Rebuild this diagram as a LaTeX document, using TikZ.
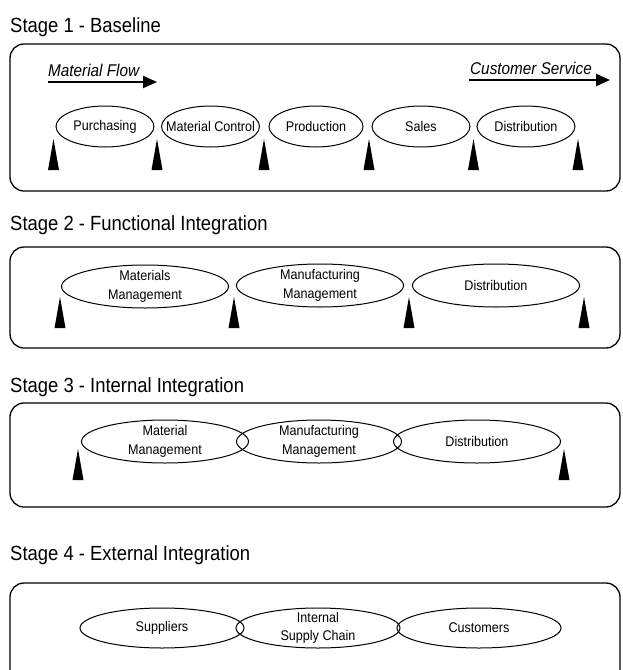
\documentclass[tikz,border=0pt]{standalone}
\usepackage{fontspec}
\setmainfont{Liberation Sans}[FakeStretch=0.9]
\usetikzlibrary{shapes.geometric,arrows.meta}
\begin{document}
\begin{tikzpicture}[x=1pt,y=-1pt,
  title/.style={anchor=base west,inner sep=0pt,font=\fontsize{20.5}{24}\selectfont},
  stagebox/.style={draw,line width=1.3pt,rounded corners=14pt,inner sep=0pt,minimum width=610pt},
  unit/.style={draw,ellipse,line width=1pt,inner sep=0pt},
  e1/.style={unit,minimum width=98pt,minimum height=41pt},
  e2/.style={unit,minimum width=167pt,minimum height=43pt},
  e4/.style={unit,minimum width=164pt,minimum height=40pt},
  unittext/.style={inner sep=0pt,align=center,font=\fontsize{14}{18.5}\selectfont},
  flowlabel/.style={anchor=base west,inner sep=0pt,font=\itshape\fontsize{17}{20}\selectfont},
  flowarrow/.style={line width=2pt,-{Triangle[length=14pt,width=12pt]}},
  spike/.pic={\fill (-5.5,0) -- (0,-31) -- (5.5,0) -- cycle;}
]
\useasboundingbox (0,0) rectangle (623,670);
\clip (0,0) rectangle (623,670);

% ---------- Stage 1 ----------
\node[title] (t1) at (10,32) {Stage 1 - Baseline};
\node[stagebox,minimum height=147pt] (box1) at (315,117.5) {};
\node[flowlabel] (mfl) at (48,76) {Material Flow};
\coordinate (mf0) at (48,82);
\coordinate (mf1) at (157,82);
\draw[flowarrow] (mf0) -- (mf1);
\node[flowlabel] (csl) at (470,74) {Customer Service};
\coordinate (cs0) at (469,80);
\coordinate (cs1) at (610,80);
\draw[flowarrow] (cs0) -- (cs1);

\node[e1] (s1a) at (105,126.5) {};
\node[unittext] (s1at) at (s1a) {Purchasing};
\node[e1] (s1b) at (210.5,126.5) {};
\node[unittext] (s1bt) at (s1b) {Material Control};
\node[e1,minimum width=94pt] (s1c) at (316,126.5) {};
\node[unittext] (s1ct) at (s1c) {Production};
\node[e1] (s1d) at (421,126.5) {};
\node[unittext] (s1dt) at (s1d) {Sales};
\node[e1] (s1e) at (526,126.5) {};
\node[unittext] (s1et) at (s1e) {Distribution};

\foreach \x in {53.5,157,264,369,473.5,578}
  \pic at (\x,170) {spike};

% ---------- Stage 2 ----------
\node[title] (t2) at (10,230) {Stage 2 - Functional Integration};
\node[stagebox,minimum height=101pt] (box2) at (315,297.5) {};
\node[e2] (s2a) at (145,286.5) {};
\node[unittext] (s2at) at (s2a) {Materials\\Management};
\node[e2] (s2b) at (320,285.5) {};
\node[unittext] (s2bt) at (s2b) {Manufacturing\\Management};
\node[e2] (s2c) at (496,285.5) {};
\node[unittext] (s2ct) at (s2c) {Distribution};

\foreach \x in {60,234,409,584}
  \pic at (\x,328) {spike};

% ---------- Stage 3 ----------
\node[title] (t3) at (10,392) {Stage 3 - Internal Integration};
\node[stagebox,minimum height=104pt] (box3) at (315,455) {};
\node[e2] (s3a) at (165,441.5) {};
\node[unittext] (s3at) at (s3a) {Material\\Management};
\node[e2,minimum width=165pt] (s3b) at (319,441.5) {};
\node[unittext] (s3bt) at (s3b) {Manufacturing\\Management};
\node[e2] (s3c) at (477,441.5) {};
\node[unittext] (s3ct) at (s3c) {Distribution};

\foreach \x in {78,564}
  \pic at (\x,480) {spike};

% ---------- Stage 4 ----------
\node[title] (t4) at (10,560) {Stage 4 - External Integration};
\node[stagebox,minimum height=130pt] (box4) at (315,648) {};
\node[e4] (s4a) at (162,628) {};
\node[unittext] (s4at) at (s4a) {Suppliers};
\node[e4] (s4b) at (318,628) {};
\node[unittext] (s4bt) at (s4b) {Internal\\Supply Chain};
\node[e4] (s4c) at (479,628) {};
\node[unittext] (s4ct) at (s4c) {Customers};
\end{tikzpicture}
\end{document}
